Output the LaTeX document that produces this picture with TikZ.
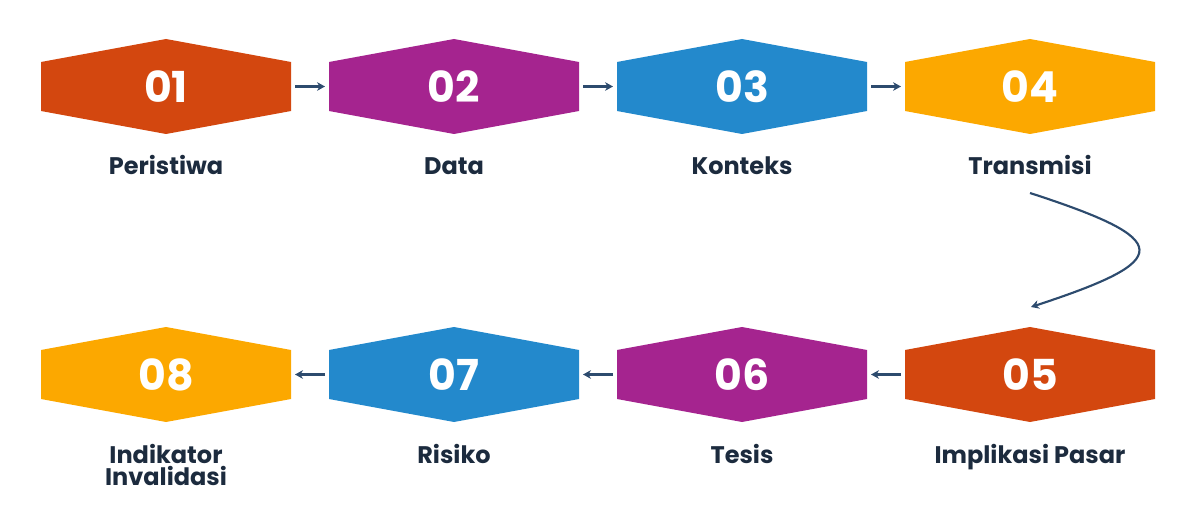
\documentclass[tikz,border=0pt]{standalone}
\usepackage{fontspec}
\setmainfont{Poppins}
\usetikzlibrary{calc,backgrounds,arrows.meta,positioning}

\definecolor{stepred}{RGB}{211,71,15}
\definecolor{steppurple}{RGB}{165,36,143}
\definecolor{stepblue}{RGB}{35,137,204}
\definecolor{stepyellow}{RGB}{252,168,0}
\definecolor{labelnavy}{RGB}{28,43,62}
\definecolor{arrowblue}{RGB}{45,75,110}

\tikzset{every picture/.style={line width=0.75pt}}

\begin{document}
\begin{tikzpicture}[x=0.75pt,y=0.75pt,yscale=-1,xscale=1,
  hexa/.style={rectangle, minimum width=187.5pt, minimum height=71.25pt,
    inner sep=0pt, outer sep=0pt, text=white, font=\bfseries\fontsize{32}{32}\selectfont},
  steplabel/.style={anchor=base, inner sep=0pt, text=labelnavy,
    align=center, font=\bfseries\fontsize{18}{16.5}\selectfont},
  flow/.style={draw=arrowblue, line width=1.6pt, -{Stealth[length=6pt,width=6.5pt]},
    shorten >=3pt, shorten <=3pt}]
%set diagram size 1200 x 527
\path[use as bounding box] (0,0) rectangle (1200,527);

% top row
\node[hexa] (h1) at (166,86.5) {01};
\node[hexa] (h2) at (454,86.5) {02};
\node[hexa] (h3) at (742,86.5) {03};
\node[hexa] (h4) at (1030,86.5) {04};
% bottom row
\node[hexa] (h5) at (1030,374.5) {05};
\node[hexa] (h6) at (742,374.5) {06};
\node[hexa] (h7) at (454,374.5) {07};
\node[hexa] (h8) at (166,374.5) {08};

% hexagon fills
\begin{scope}[on background layer]
\foreach \n/\c in {h1/stepred,h2/steppurple,h3/stepblue,h4/stepyellow,
                   h5/stepred,h6/steppurple,h7/stepblue,h8/stepyellow}
  \fill[\c] (\n.north) -- ($(\n.north east)!0.242!(\n.south east)$)
    -- ($(\n.south east)!0.242!(\n.north east)$) -- (\n.south)
    -- ($(\n.south west)!0.242!(\n.north west)$)
    -- ($(\n.north west)!0.242!(\n.south west)$) -- cycle;
\end{scope}

% Labels
\node[steplabel] (l1) at ($(h1.south)+(0,41)$) {Peristiwa};
\node[steplabel] (l2) at ($(h2.south)+(0,41)$) {Data};
\node[steplabel] (l3) at ($(h3.south)+(0,41)$) {Konteks};
\node[steplabel] (l4) at ($(h4.south)+(0,41)$) {Transmisi};
\node[steplabel] (l5) at ($(h5.south)+(0,41)$) {Implikasi Pasar};
\node[steplabel] (l6) at ($(h6.south)+(0,41)$) {Tesis};
\node[steplabel] (l7) at ($(h7.south)+(0,41)$) {Risiko};
\node[steplabel] (l8) at ($(h8.south)+(0,63)$) {Indikator\\Invalidasi};

% Arrows
\draw[flow] (h1) -- (h2);
\draw[flow] (h2) -- (h3);
\draw[flow] (h3) -- (h4);
\draw[flow] (h5) -- (h6);
\draw[flow] (h6) -- (h7);
\draw[flow] (h7) -- (h8);

% bend from 04 down to 05
\coordinate (bendstart) at (1030,193);
\coordinate (bendend) at (1031,307);
\draw[flow, shorten <=0pt, shorten >=0pt] (bendstart) .. controls (1175,240) and (1175,260) .. (bendend);

\end{tikzpicture}
\end{document}
